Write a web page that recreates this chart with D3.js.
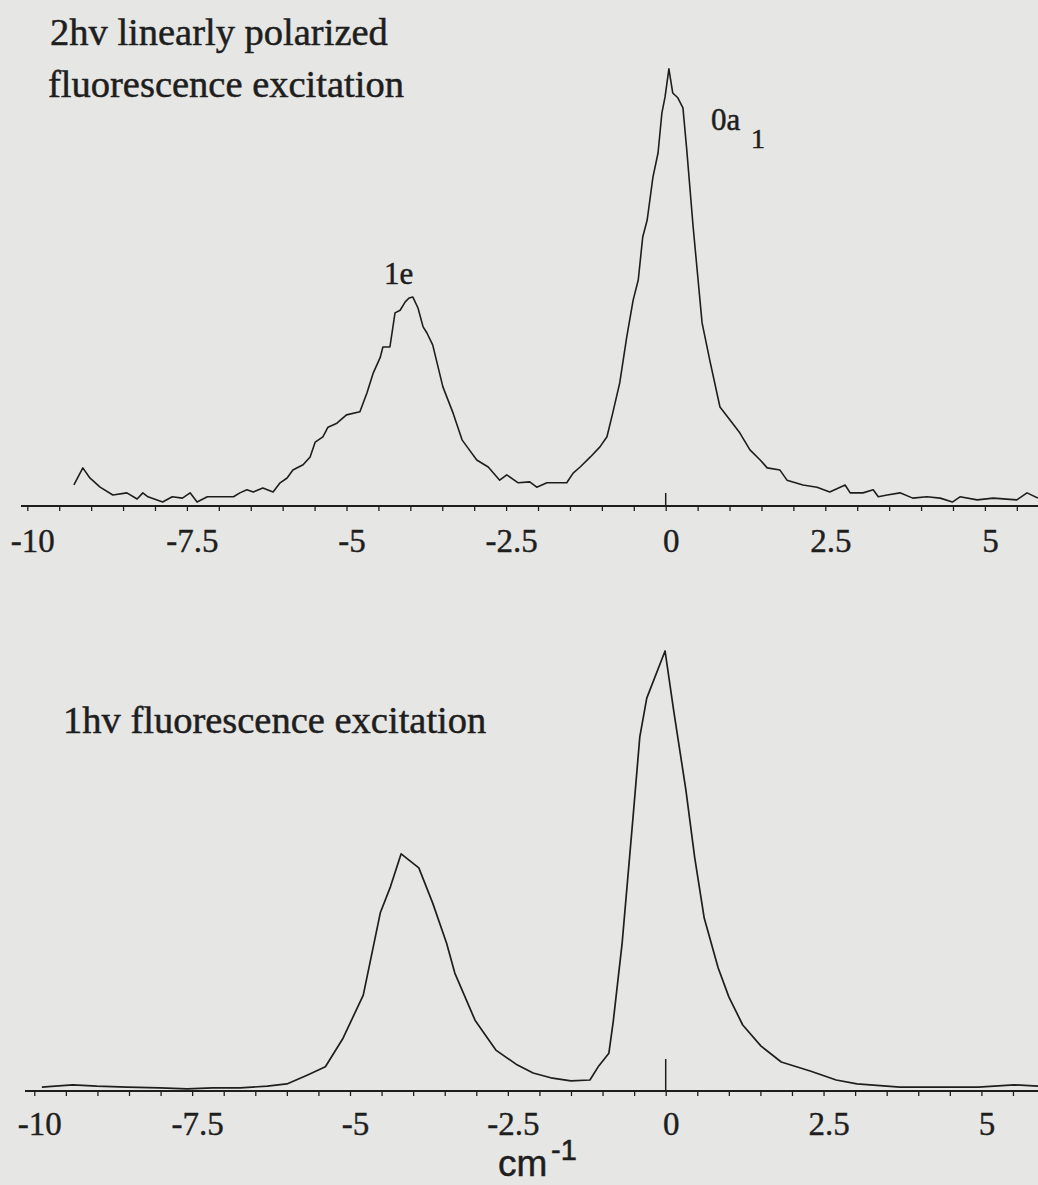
<!DOCTYPE html>
<html>
<head>
<meta charset="utf-8">
<script src="https://cdn.jsdelivr.net/npm/d3@7"></script>
<style>
    body { margin: 0; background: #e6e6e4; }
    svg { display: block; }
</style>
</head>
<body>
<div id="chart"></div>
<script>
// 2hv linearly polarized spectrum (wavenumber offset in cm-1, relative intensity)
const topWavenumber = [
    -9.27, -9.13, -9.02, -8.86, -8.66, -8.44, -8.28, -8.19, -8.11, -7.88,
    -7.73, -7.57, -7.45, -7.34, -7.18, -6.98, -6.77, -6.67, -6.56, -6.46,
    -6.31, -6.15, -6.04, -5.93, -5.84, -5.68, -5.57, -5.49, -5.37, -5.29,
    -5.15, -5.00, -4.79, -4.68, -4.58, -4.47, -4.43, -4.32, -4.24, -4.16,
    -4.08, -4.02, -3.96, -3.88, -3.80, -3.74, -3.65, -3.49, -3.33, -3.19,
    -3.11, -2.96, -2.78, -2.60, -2.49, -2.31, -2.13, -2.02, -1.86, -1.55,
    -1.45, -1.34, -1.18, -1.03, -0.92, -0.83, -0.72, -0.61, -0.51, -0.43,
    -0.36, -0.29, -0.20, -0.12, -0.06, -0.01, 0.05, 0.11, 0.19, 0.27,
    0.33, 0.43, 0.57, 0.69, 0.85, 1.01, 1.16, 1.32, 1.48, 1.59,
    1.79, 1.90, 2.15, 2.37, 2.57, 2.81, 2.89, 3.09, 3.25, 3.33,
    3.47, 3.67, 3.87, 4.09, 4.30, 4.49, 4.61, 4.88, 5.13, 5.50,
    5.66, 5.83
];
const topIntensity = [
    4.8, 8.7, 6.4, 4.3, 2.5, 3.0, 1.6, 3.0, 2.1, 0.9,
    2.1, 1.8, 3.0, 0.9, 2.1, 2.1, 2.1, 3.0, 3.7, 3.2,
    4.1, 3.2, 5.3, 6.4, 8.2, 9.4, 11.2, 14.6, 15.8, 18.0,
    18.9, 20.8, 21.5, 25.8, 30.4, 34.0, 36.3, 36.3, 44.1, 44.7,
    46.6, 47.5, 47.7, 45.2, 40.9, 39.5, 36.8, 27.2, 21.2, 15.1,
    13.5, 10.5, 8.9, 5.9, 7.1, 5.3, 5.5, 4.3, 5.3, 5.3,
    7.5, 8.9, 11.2, 13.5, 15.8, 21.2, 28.1, 38.6, 47.0, 51.6,
    61.4, 65.3, 75.1, 80.6, 89.7, 93.4, 99.8, 94.3, 93.2, 90.9,
    81.3, 63.7, 41.8, 33.3, 22.6, 19.6, 16.7, 12.8, 10.5, 8.7,
    8.2, 5.9, 4.8, 4.3, 3.2, 4.8, 3.0, 3.0, 3.7, 2.1,
    2.5, 3.0, 1.8, 2.1, 1.8, 0.9, 2.1, 1.4, 1.8, 1.4,
    3.0, 1.8
];

// 1hv spectrum
const bottomWavenumber = [
    -9.88, -9.67, -9.39, -9.01, -8.53, -8.01, -7.58, -7.17, -6.74, -6.31,
    -6.00, -5.68, -5.39, -5.11, -4.79, -4.52, -4.36, -4.19, -3.91, -3.69,
    -3.47, -3.34, -3.02, -2.69, -2.37, -2.10, -1.82, -1.50, -1.20, -1.06,
    -0.90, -0.83, -0.69, -0.52, -0.41, -0.30, -0.01, 0.13, 0.32, 0.46,
    0.61, 0.83, 1.00, 1.22, 1.51, 1.83, 2.30, 2.70, 3.03, 3.71,
    4.39, 4.95, 5.52, 5.90
];
const bottomIntensity = [
    0.9, 1.1, 1.4, 1.1, 0.9, 0.7, 0.5, 0.7, 0.7, 1.1,
    1.6, 3.6, 5.5, 12.0, 21.8, 40.5, 46.4, 53.9, 50.7, 42.7,
    33.6, 26.8, 16.1, 9.3, 6.1, 4.1, 3.0, 2.3, 2.5, 5.7,
    8.6, 15.9, 33.6, 61.8, 80.5, 89.3, 100, 86.1, 68.4, 53.0,
    39.3, 28.0, 21.4, 15.0, 10.2, 6.6, 4.5, 2.5, 1.6, 0.9,
    0.9, 0.9, 1.4, 1.1
];

const tickLabels = [-10, -7.5, -5, -2.5, 0, 2.5, 5];

const width = 1038;
const height = 1185;
const ink = "#1e1e1e";
const serif = "'Liberation Serif', 'Times New Roman', serif";
const sans = "'Liberation Sans', Arial, sans-serif";

const svg = d3.select("#chart")
    .append("svg")
    .attr("width", width)
    .attr("height", height);

function drawPanel(opts) {
    const x = d3.scaleLinear().domain([-10, 0]).range([opts.xLeft, 665.7]);
    const y = d3.scaleLinear().domain([0, 100]).range([opts.axisY, opts.peakY]);
    const g = svg.append("g");

    // axis with half-unit ticks, labels every 2.5
    const axis = d3.axisBottom(x)
        .tickValues(d3.range(-10, 5.51, 0.5))
        .tickSize(5)
        .tickSizeOuter(0)
        .tickFormat(d => tickLabels.includes(d) ? String(d) : "");

    const ag = g.append("g")
        .attr("transform", `translate(0,${opts.axisY})`)
        .call(axis);
    ag.select(".domain").remove();
    ag.selectAll(".tick line").attr("stroke", ink).attr("stroke-width", 1.3);
    ag.selectAll(".tick text")
        .attr("fill", ink)
        .attr("stroke", ink)
        .attr("stroke-width", 0.4)
        .attr("y", opts.labelOffset)
        .attr("dy", 0)
        .attr("dx", 5)
        .style("font-family", serif)
        .style("font-size", "33px");

    g.append("line")
        .attr("x1", opts.lineStart).attr("x2", width)
        .attr("y1", opts.axisY).attr("y2", opts.axisY)
        .attr("stroke", ink).attr("stroke-width", 2);

    // zero marker
    g.append("line")
        .attr("x1", x(0)).attr("x2", x(0))
        .attr("y1", opts.axisY).attr("y2", opts.axisY - opts.zeroMark)
        .attr("stroke", ink).attr("stroke-width", 1.5);

    const pts = opts.xs.map((v, i) => [v, opts.ys[i]]);
    g.append("path")
        .datum(pts)
        .attr("fill", "none")
        .attr("stroke", ink)
        .attr("stroke-width", opts.strokeWidth)
        .attr("stroke-linejoin", "round")
        .attr("d", d3.line().x(d => x(d[0])).y(d => y(d[1])));
}

drawPanel({
    xs: topWavenumber, ys: topIntensity,
    xLeft: 27.3, lineStart: 21, axisY: 506, peakY: 68,
    labelOffset: 46, zeroMark: 13, strokeWidth: 1.6
});

drawPanel({
    xs: bottomWavenumber, ys: bottomIntensity,
    xLeft: 34.3, lineStart: 25, axisY: 1091, peakY: 651,
    labelOffset: 44, zeroMark: 32, strokeWidth: 1.7
});

function addText(str, x, y, size, family) {
    svg.append("text")
        .attr("x", x).attr("y", y)
        .attr("fill", ink)
        .attr("stroke", ink)
        .attr("stroke-width", 0.5)
        .style("font-family", family || serif)
        .style("font-size", size + "px")
        .text(str);
}

addText("2hv linearly polarized", 50, 45, 38.5);
addText("fluorescence excitation", 48, 97, 38.5);
addText("1hv fluorescence excitation", 63, 733, 38.5);

// peak labels
addText("1e", 384, 284, 31);
addText("0a", 711, 130, 31);
addText("1", 751, 148, 28);

// x unit
addText("cm", 498, 1176, 37, sans);
addText("-1", 551, 1160, 29, sans);
</script>
</body>
</html>
